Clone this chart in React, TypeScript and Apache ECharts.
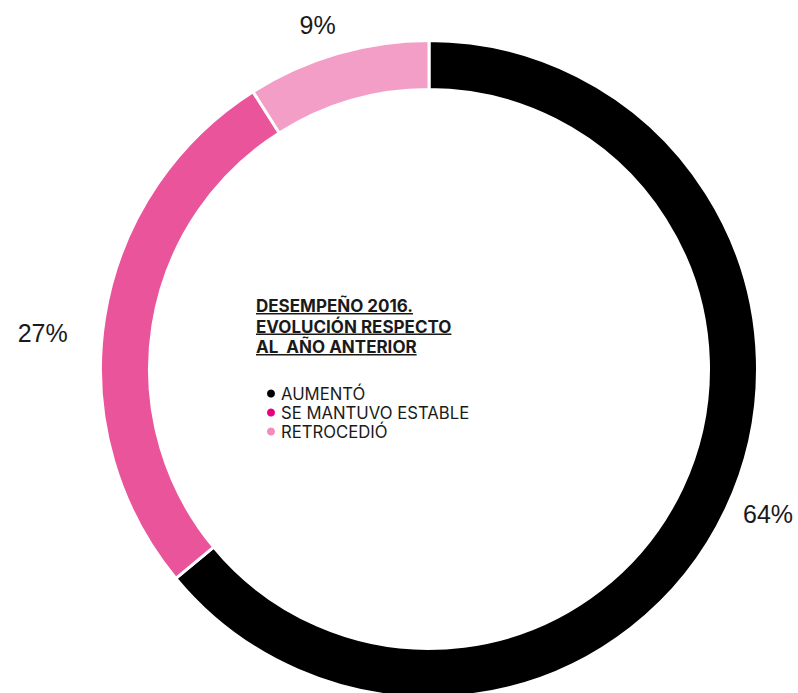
import React, { useEffect, useRef } from "react";
import * as echarts from "echarts";

const CATEGORIES = ["AUMENTÓ", "SE MANTUVO ESTABLE", "RETROCEDIÓ"];
const VALUES = [64, 27, 9];
const SEGMENT_COLORS = ["#000000", "#E9549A", "#F39EC6"];
const LEGEND_COLORS = ["#000000", "#E6007E", "#F08CBC"];
const LABEL_OFFSETS: [number, number][] = [[0, 0], [-19, 17], [7, -16]];
const TITLE_LINES = ["DESEMPEÑO 2016.", "EVOLUCIÓN RESPECTO", "AL  AÑO ANTERIOR"];

const TITLE_FONT = "bold 17px Inter";

function measure(text: string, font: string): number {
  const c = document.createElement("canvas");
  const ctx = c.getContext("2d");
  if (!ctx) return text.length * 9;
  ctx.font = font;
  return ctx.measureText(text).width;
}

export default function App() {
  const ref = useRef<HTMLDivElement>(null);
  useEffect(() => {
    document.body.style.margin = "0";
    if (!ref.current) return;
    const chart = echarts.init(ref.current, undefined, { renderer: "svg" });

    const titleLeft = 256;
    const titleTop = 306;
    const linePitch = 20.5;
    const titleGraphics: any[] = [];
    TITLE_LINES.forEach((line, i) => {
      const y = titleTop + i * linePitch;
      titleGraphics.push({
        type: "text",
        x: titleLeft,
        y,
        silent: true,
        style: {
          text: line,
          font: TITLE_FONT,
          fill: "#1a1a1a",
          align: "left",
          verticalAlign: "middle",
        },
      });
      const w = measure(line, TITLE_FONT);
      titleGraphics.push({
        type: "rect",
        x: titleLeft,
        y: y + 7,
        silent: true,
        shape: { x: 0, y: 0, width: w, height: 1.6 },
        style: { fill: "#1a1a1a" },
      });
    });

    chart.setOption({
      animation: false,
      legend: {
        orient: "vertical",
        left: 260,
        top: 379,
        icon: "circle",
        itemWidth: 10,
        itemHeight: 10,
        itemGap: 0,
        selectedMode: false,
        textStyle: {
          fontFamily: "Inter",
          fontSize: 16.7,
          color: "#1a1a1a",
          lineHeight: 19,
        },
        data: CATEGORIES.map((name, i) => ({
          name,
          itemStyle: { color: LEGEND_COLORS[i] },
        })),
      },
      graphic: titleGraphics,
      series: [
        {
          type: "pie",
          center: [429, 369],
          radius: [279.5, 328.5],
          startAngle: 90,
          clockwise: true,
          silent: true,
          avoidLabelOverlap: false,
          itemStyle: { borderColor: "#ffffff", borderWidth: 3 },
          label: {
            show: true,
            position: "outside",
            formatter: "{c}%",
            fontFamily: "Liberation Sans",
            fontSize: 25,
            color: "#1a1a1a",
            distanceToLabelLine: 5,
          },
          labelLine: { show: false, length: 13, length2: 0 },
          data: CATEGORIES.map((name, i) => ({
            name,
            value: VALUES[i],
            itemStyle: { color: SEGMENT_COLORS[i] },
            label: { offset: LABEL_OFFSETS[i] },
          })),
        },
      ],
    });
    return () => chart.dispose();
  }, []);
  return <div ref={ref} style={{ width: 798, height: 693 }} />;
}
